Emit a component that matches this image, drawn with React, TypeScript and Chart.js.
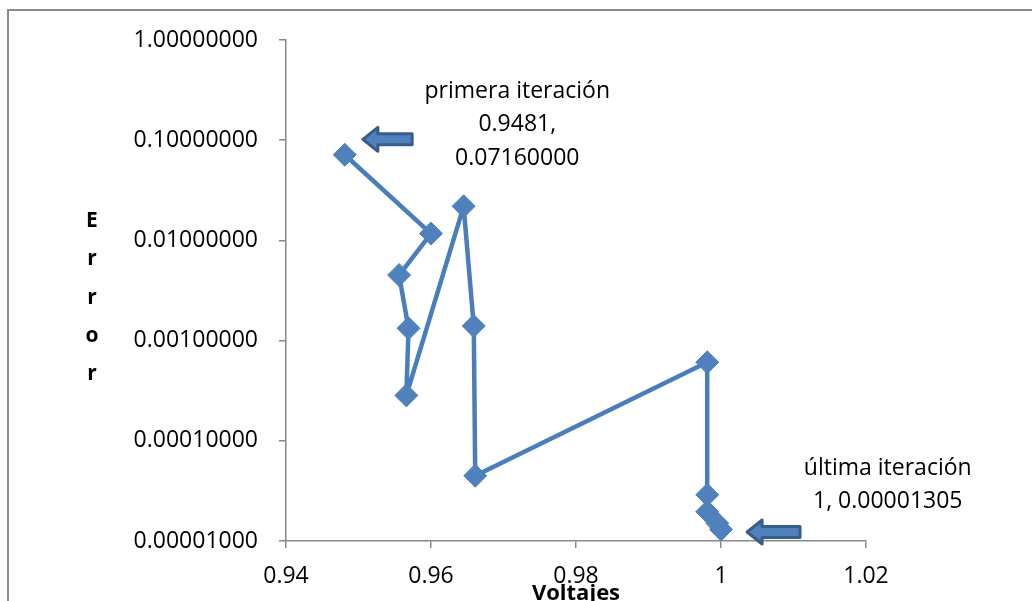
import React, { useEffect, useRef } from 'react';
import { Chart, registerables } from 'chart.js';

Chart.register(...registerables);

// ---- data ----
const voltajes = [0.9481, 0.96, 0.9556, 0.9569, 0.9566, 0.9645, 0.9659, 0.9661, 0.9981, 0.9981, 0.9981, 0.9995, 1.0];
const errores = [0.0716, 0.0117, 0.00451, 0.001325, 0.000284, 0.0219, 0.0014, 0.0000448, 0.000608, 0.0000289, 0.0000196, 0.000015, 0.00001305];

const xTicks = [0.94, 0.96, 0.98, 1, 1.02];
const xTickLabels = ['0.94', '0.96', '0.98', '1', '1.02'];
const yTicks = [0.00001, 0.0001, 0.001, 0.01, 0.1, 1];
const yTickLabels = ['0.00001000', '0.00010000', '0.00100000', '0.01000000', '0.10000000', '1.00000000'];

const xAxisTitle = 'Voltajes';
const yAxisTitle = ['E', 'r', 'r', 'o', 'r'];
const firstNote = ['primera iteración', '0.9481,', '0.07160000'];
const lastNote = ['última iteración', '1, 0.00001305'];

// annotation anchors (data units)
const firstNoteAnchor = { x: 0.9719, y: 0.264 };
const lastNoteAnchor = { x: 1.023, y: 0.0000456 };
const firstArrow = { tipX: 0.9506, tailX: 0.9574, y: 0.102 };
const lastArrow = { tipX: 1.0036, tailX: 1.0109, y: 0.0000123 };

const FONT = '"Open Sans", "DejaVu Sans", sans-serif';
const AXIS_GRAY = '#888888';
const LINE_BLUE = '#4A7EBB';
const MARKER_BLUE = '#4F81BD';

function drawArrow(ctx: CanvasRenderingContext2D, tip: number, tail: number, y: number) {
  const headLen = 15;
  const headHalf = 12;
  const shaftHalf = 5.5;
  ctx.beginPath();
  ctx.moveTo(tip, y);
  ctx.lineTo(tip + headLen, y - headHalf);
  ctx.lineTo(tip + headLen, y - shaftHalf);
  ctx.lineTo(tail, y - shaftHalf);
  ctx.lineTo(tail, y + shaftHalf);
  ctx.lineTo(tip + headLen, y + shaftHalf);
  ctx.lineTo(tip + headLen, y + headHalf);
  ctx.closePath();
  ctx.lineJoin = 'round';
  ctx.fillStyle = MARKER_BLUE;
  ctx.fill();
  ctx.lineWidth = 3;
  ctx.strokeStyle = '#385D8A';
  ctx.stroke();
}

const annotationsPlugin = {
  id: 'annotations',
  afterDraw(chart: any) {
    const { ctx, scales } = chart;
    const x = scales.x;
    const y = scales.y;
    ctx.save();
    drawArrow(ctx, x.getPixelForValue(firstArrow.tipX), x.getPixelForValue(firstArrow.tailX), y.getPixelForValue(firstArrow.y));
    drawArrow(ctx, x.getPixelForValue(lastArrow.tipX), x.getPixelForValue(lastArrow.tailX), y.getPixelForValue(lastArrow.y));

    ctx.fillStyle = '#000';
    ctx.textAlign = 'center';
    ctx.textBaseline = 'alphabetic';
    ctx.font = `23px ${FONT}`;
    const fx = x.getPixelForValue(firstNoteAnchor.x);
    const fy = y.getPixelForValue(firstNoteAnchor.y);
    firstNote.forEach((t, i) => ctx.fillText(t, fx, fy + i * 33.5));
    const lx = x.getPixelForValue(lastNoteAnchor.x);
    const ly = y.getPixelForValue(lastNoteAnchor.y);
    lastNote.forEach((t, i) => ctx.fillText(t, lx, ly + i * 33));

    ctx.font = `bold 21px ${FONT}`;
    yAxisTitle.forEach((t, i) => ctx.fillText(t, 92, 227 + i * 38.25));

    ctx.font = `bold 22px ${FONT}`;
    ctx.fillText(xAxisTitle, (x.left + x.right) / 2, 600);
    ctx.restore();
  },
};

export default function App() {
  const canvasRef = useRef<HTMLCanvasElement | null>(null);

  useEffect(() => {
    const canvas = canvasRef.current;
    if (!canvas) return;
    const chart = new Chart(canvas, {
      type: 'scatter',
      data: {
        datasets: [
          {
            label: 'Error',
            data: voltajes.map((v, i) => ({ x: v, y: errores[i] })),
            showLine: true,
            borderColor: LINE_BLUE,
            borderWidth: 4.5,
            borderJoinStyle: 'round',
            borderCapStyle: 'round',
            backgroundColor: MARKER_BLUE,
            pointStyle: 'rectRot',
            pointRadius: 11.5,
            pointBorderColor: MARKER_BLUE,
            pointBorderWidth: 1,
            tension: 0,
          },
        ],
      },
      options: {
        responsive: false,
        animation: false,
        devicePixelRatio: 1,
        layout: { padding: { left: 0, top: 40, right: 166, bottom: 0 } },
        plugins: {
          legend: { display: false },
          tooltip: { enabled: false },
        },
        scales: {
          x: {
            type: 'linear',
            min: 0.94,
            max: 1.02,
            afterBuildTicks: (axis: any) => {
              axis.ticks = xTicks.map((v) => ({ value: v }));
            },
            afterFit: (axis: any) => {
              axis.height = 60;
            },
            ticks: {
              callback: (_v: any, i: number) => xTickLabels[i],
              font: { family: FONT, size: 23 },
              color: '#000',
              padding: 15,
              maxRotation: 0,
              autoSkip: false,
            },
            grid: {
              display: true,
              drawOnChartArea: false,
              drawTicks: true,
              tickLength: 7,
              color: AXIS_GRAY,
              lineWidth: 1.5,
            },
            border: { display: true, color: AXIS_GRAY, width: 1.5 },
          },
          y: {
            type: 'logarithmic',
            min: 0.00001,
            max: 1,
            afterBuildTicks: (axis: any) => {
              axis.ticks = yTicks.map((v) => ({ value: v }));
            },
            afterFit: (axis: any) => {
              axis.width = 286;
            },
            ticks: {
              callback: (_v: any, i: number) => yTickLabels[i],
              font: { family: FONT, size: 23 },
              color: '#000',
              padding: 21,
              autoSkip: false,
            },
            grid: {
              display: true,
              drawOnChartArea: false,
              drawTicks: true,
              tickLength: 7,
              color: AXIS_GRAY,
              lineWidth: 1.5,
            },
            border: { display: true, color: AXIS_GRAY, width: 1.5 },
          },
        },
      },
      plugins: [annotationsPlugin],
    } as any);
    return () => chart.destroy();
  }, []);

  return (
    <div
      style={{
        position: 'fixed',
        left: 0,
        top: 0,
        width: 1032,
        height: 601,
        overflow: 'hidden',
        background: '#fff',
      }}
    >
      <div
        style={{
          position: 'absolute',
          left: 7,
          top: 9,
          width: 1100,
          height: 700,
          borderLeft: '2px solid #8a8a8a',
          borderTop: '2px solid #8a8a8a',
        }}
      />
      <canvas
        ref={canvasRef}
        width={1032}
        height={601}
        style={{ position: 'absolute', left: 0, top: 0, width: 1032, height: 601 }}
      />
    </div>
  );
}
